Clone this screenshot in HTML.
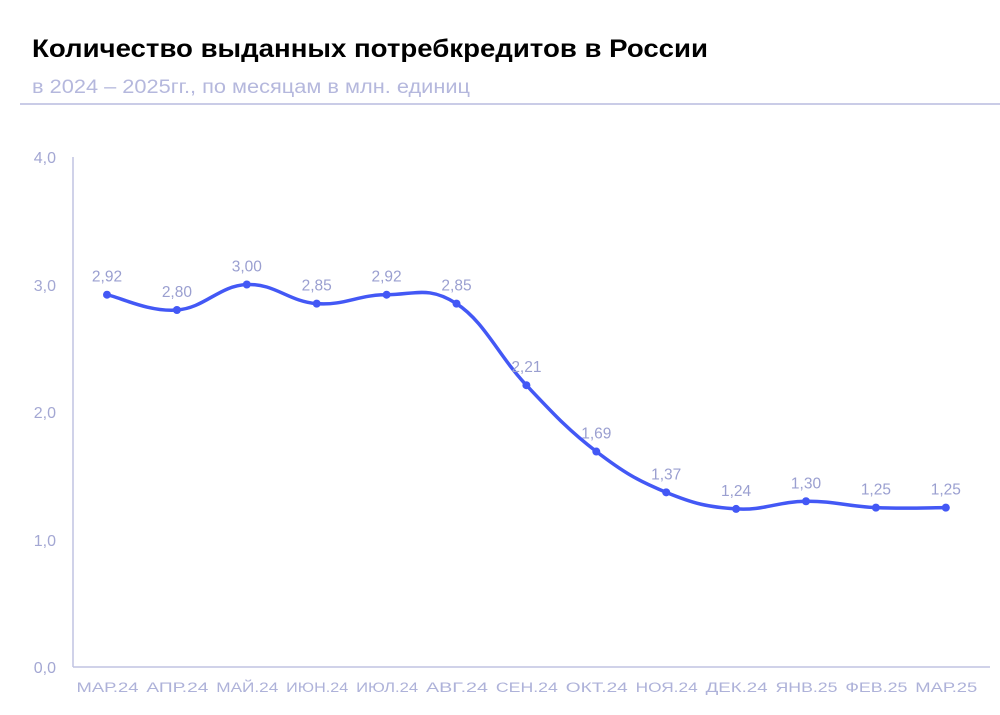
<!DOCTYPE html>
<html><head><meta charset="utf-8"><style>
body{margin:0;background:#fff;width:1000px;height:710px;overflow:hidden;font-family:"Liberation Sans","DejaVu Sans",sans-serif}
</style></head><body>
<svg id="s" width="1000" height="710" xmlns="http://www.w3.org/2000/svg" font-family="Liberation Sans, DejaVu Sans, sans-serif">
<text x="32" y="57" font-size="25" font-weight="bold" fill="#000" textLength="676" lengthAdjust="spacingAndGlyphs">Количество выданных потребкредитов в России</text>
<text x="32" y="93" font-size="19" fill="#b5b8dd" textLength="438" lengthAdjust="spacingAndGlyphs">в 2024 – 2025гг., по месяцам в млн. единиц</text>
<line x1="20" y1="104" x2="1000" y2="104" stroke="#b9bcdf" stroke-width="1.5"/>
<line x1="73" y1="157" x2="73" y2="667" stroke="#c0c3e2" stroke-width="1.5"/>
<line x1="73" y1="667" x2="990" y2="667" stroke="#c0c3e2" stroke-width="1.5"/>
<g font-size="16" fill="#a3a7d3" text-anchor="end">
<text x="56" y="163">4,0</text><text x="56" y="291">3,0</text><text x="56" y="418">2,0</text><text x="56" y="546">1,0</text><text x="56" y="673">0,0</text>
</g>
<g id="g"></g>
</svg>
<script>
var v=[2.92,2.80,3.00,2.85,2.92,2.85,2.21,1.69,1.37,1.24,1.30,1.25,1.25];
var m=["МАР.24","АПР.24","МАЙ.24","ИЮН.24","ИЮЛ.24","АВГ.24","СЕН.24","ОКТ.24","НОЯ.24","ДЕК.24","ЯНВ.25","ФЕВ.25","МАР.25"];
var P=v.map(function(a,i){return [107+69.9*i,667-127.5*a];});
var d="M"+P[0][0]+","+P[0][1];
for(var i=0;i<P.length-1;i++){var p0=P[Math.max(i-1,0)],p1=P[i],p2=P[i+1],p3=P[Math.min(i+2,P.length-1)];
var t=0.2;d+=" C"+(p1[0]+(p2[0]-p0[0])*t)+","+(p1[1]+(p2[1]-p0[1])*t)+" "+(p2[0]-(p3[0]-p1[0])*t)+","+(p2[1]-(p3[1]-p1[1])*t)+" "+p2[0]+","+p2[1];}
var h='<path d="'+d+'" fill="none" stroke="#4358f5" stroke-width="3.5" stroke-linecap="round"/>';
P.forEach(function(p,i){h+='<circle cx="'+p[0]+'" cy="'+p[1]+'" r="4" fill="#4358f5"/>';
h+='<text x="'+p[0]+'" y="'+(p[1]-13)+'" font-size="15.5" fill="#9a9fd0" text-anchor="middle">'+v[i].toFixed(2).replace(".",",")+'</text>';
h+='<text x="'+(p[0]+0.5)+'" y="692" font-size="13.5" fill="#aeb2d9" text-anchor="middle" textLength="62" lengthAdjust="spacingAndGlyphs">'+m[i]+'</text>';});
document.getElementById("g").innerHTML=h;
</script>
</body></html>
